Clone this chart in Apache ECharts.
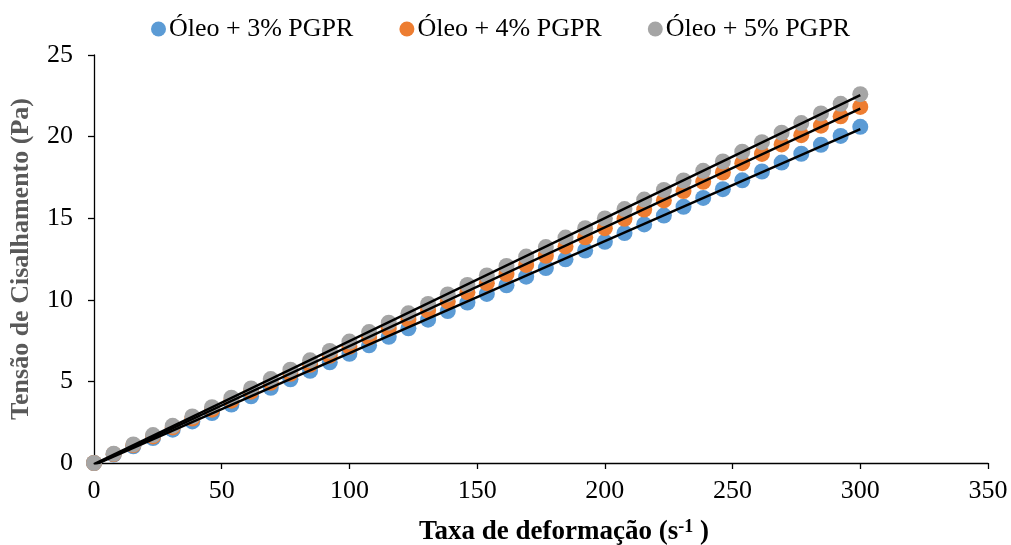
<!DOCTYPE html>
<html>
<head>
<meta charset="utf-8">
<script src="https://cdn.jsdelivr.net/npm/echarts@6/dist/echarts.min.js"></script>
<style>
html,body{margin:0;padding:0;background:#fff;}
#chart{width:1011px;height:545px;}
</style>
</head>
<body>
<div id="chart"></div>
<script>
// Shear rate (s^-1)
const shearRate = [0, 7.7, 15.4, 23.1, 30.8, 38.5, 46.2, 53.8, 61.5, 69.2, 76.9, 84.6, 92.3, 100, 107.7, 115.4, 123.1, 130.8, 138.5, 146.2, 153.8, 161.5, 169.2, 176.9, 184.6, 192.3, 200, 207.7, 215.4, 223.1, 230.8, 238.5, 246.2, 253.8, 261.5, 269.2, 276.9, 284.6, 292.3, 300];
// Shear stress (Pa)
const oleo3 = [0, 0.51, 1.02, 1.53, 2.04, 2.55, 3.06, 3.58, 4.09, 4.61, 5.13, 5.65, 6.17, 6.69, 7.21, 7.73, 8.25, 8.78, 9.31, 9.83, 10.36, 10.89, 11.42, 11.95, 12.48, 13.02, 13.55, 14.09, 14.62, 15.16, 15.70, 16.24, 16.78, 17.32, 17.86, 18.41, 18.95, 19.50, 20.04, 20.60];
const oleo4 = [0, 0.54, 1.09, 1.63, 2.18, 2.72, 3.27, 3.82, 4.37, 4.91, 5.47, 6.02, 6.57, 7.12, 7.68, 8.23, 8.79, 9.34, 9.90, 10.46, 11.02, 11.58, 12.14, 12.70, 13.27, 13.83, 14.39, 14.96, 15.53, 16.09, 16.66, 17.23, 17.80, 18.37, 18.94, 19.52, 20.09, 20.67, 21.24, 21.82];
const oleo5 = [0, 0.57, 1.14, 1.71, 2.28, 2.85, 3.42, 4.00, 4.57, 5.14, 5.72, 6.29, 6.87, 7.44, 8.02, 8.60, 9.17, 9.75, 10.33, 10.91, 11.49, 12.07, 12.65, 13.23, 13.81, 14.39, 14.98, 15.56, 16.14, 16.73, 17.31, 17.90, 18.48, 19.07, 19.66, 20.24, 20.83, 21.42, 22.01, 22.60];
const seriesNames = ['Óleo + 3% PGPR', 'Óleo + 4% PGPR', 'Óleo + 5% PGPR'];
const seriesColors = ['#5B9BD5', '#ED7D31', '#A5A5A5'];
const yTicks = [0, 5, 10, 15, 20, 25];
const xTicks = [0, 50, 100, 150, 200, 250, 300, 350];

function linFit(xs, ys) {
  const n = xs.length;
  let sx = 0, sy = 0, sxx = 0, sxy = 0;
  for (let i = 0; i < n; i++) { sx += xs[i]; sy += ys[i]; sxx += xs[i] * xs[i]; sxy += xs[i] * ys[i]; }
  const b = (n * sxy - sx * sy) / (n * sxx - sx * sx);
  const a = (sy - b * sx) / n;
  const x0 = xs[0], x1 = xs[n - 1];
  return [[x0, a + b * x0], [x1, a + b * x1]];
}

const allY = [oleo3, oleo4, oleo5];
const series = [];
allY.forEach((ys, k) => {
  series.push({
    name: seriesNames[k],
    type: 'scatter',
    symbol: 'circle',
    symbolSize: 16,
    itemStyle: { color: seriesColors[k], opacity: 1 },
    data: shearRate.map((x, i) => [x, ys[i]]),
    z: 2 + k,
    silent: true
  });
});
allY.forEach((ys, k) => {
  series.push({
    name: 'trend' + k,
    type: 'line',
    symbol: 'none',
    lineStyle: { color: '#000', width: 2.5 },
    data: linFit(shearRate, ys),
    z: 10,
    silent: true
  });
});

const chart = echarts.init(document.getElementById('chart'), null, { renderer: 'canvas' });
const font = '"Liberation Serif", "Times New Roman", serif';
chart.setOption({
  animation: false,
  backgroundColor: '#fff',
  textStyle: { fontFamily: font },
  legend: {
    data: seriesNames.map((n, k) => ({ name: n, icon: 'circle', itemStyle: { color: seriesColors[k] } })),
    top: 11,
    left: 146,
    itemWidth: 15,
    itemHeight: 15,
    itemGap: 46,
    textStyle: { fontFamily: font, fontSize: 26, color: '#000', padding: [0, 0, 0, -2] }
  },
  grid: { left: 94, right: 23, top: 55, bottom: 82, containLabel: false, outerBoundsMode: 'none' },
  xAxis: {
    type: 'value',
    min: xTicks[0],
    max: xTicks[xTicks.length - 1],
    interval: 50,
    splitLine: { show: false },
    axisLine: { show: true, onZero: false, lineStyle: { color: '#000', width: 1.3 } },
    axisTick: { show: true, inside: false, length: 6, lineStyle: { color: '#000', width: 1.3 } },
    axisLabel: { fontFamily: font, fontSize: 26, color: '#000', margin: 15 },
    name: '{a|Taxa de deformação (s}{b|-1}{a| )}',
    nameLocation: 'middle',
    nameGap: 55,
    nameTextStyle: {
      padding: [0, 0, 0, 46],
      rich: {
        a: { fontFamily: font, fontSize: 27, fontWeight: 'bold', color: '#000' },
        b: { fontFamily: font, fontSize: 18, fontWeight: 'bold', color: '#000', verticalAlign: 'top', padding: [0, 0, 10, 0] }
      }
    }
  },
  yAxis: {
    type: 'value',
    min: yTicks[0],
    max: yTicks[yTicks.length - 1],
    interval: 5,
    splitLine: { show: false },
    axisLine: { show: true, lineStyle: { color: '#000', width: 1.3 } },
    axisTick: { show: true, inside: false, length: 6, lineStyle: { color: '#000', width: 1.3 } },
    axisLabel: { fontFamily: font, fontSize: 26, color: '#000', margin: 21 },
    name: 'Tensão de Cisalhamento (Pa)',
    nameLocation: 'middle',
    nameGap: 60,
    nameTextStyle: { fontFamily: font, fontSize: 26, fontWeight: 'bold', color: '#595959' }
  },
  series: series
});
</script>
</body>
</html>
